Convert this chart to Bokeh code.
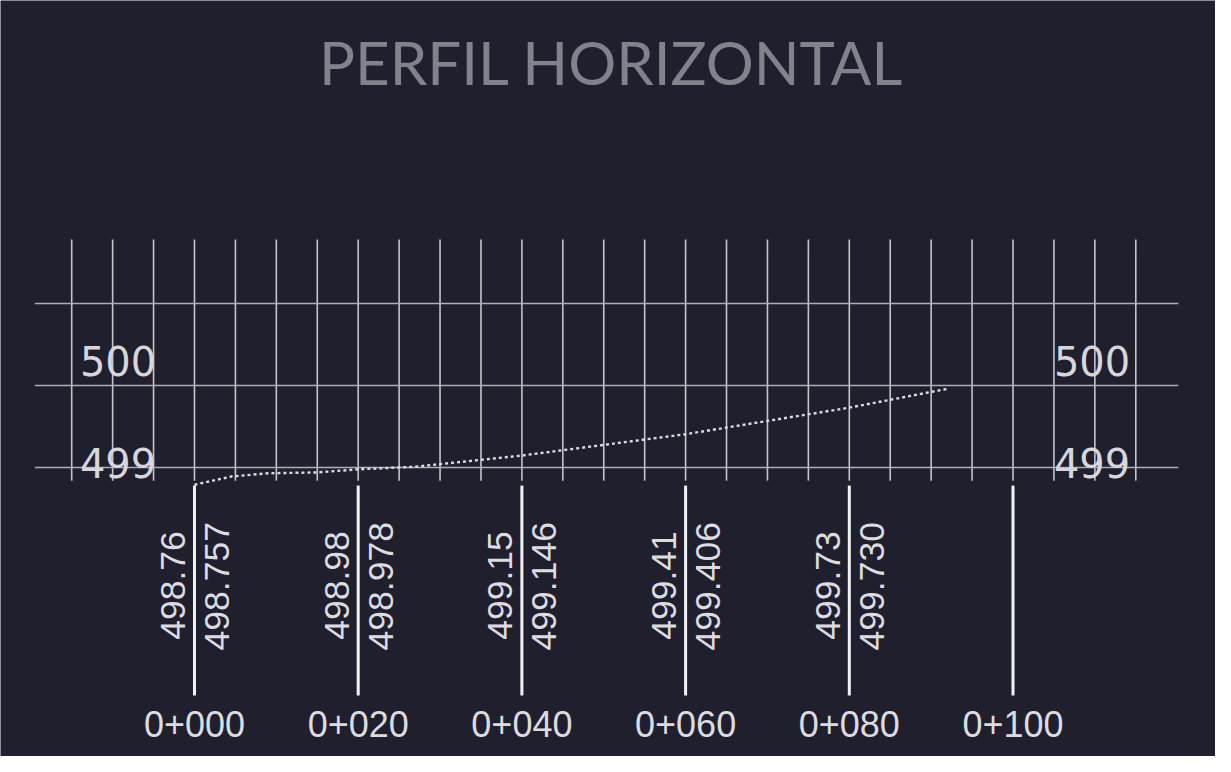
import numpy as np
from bokeh.plotting import figure
from bokeh.models import Range1d
from bokeh.core.properties import value
from bokeh.embed import file_html
from bokeh.resources import INLINE

# ---- data ----
title_text = "PERFIL HORIZONTAL"
station_m = [0, 20, 40, 60, 80, 100]
station_labels = ["0+000", "0+020", "0+040", "0+060", "0+080", "0+100"]
label_station_m = [0, 20, 40, 60, 80]
cota_terreno = ["498.76", "498.98", "499.15", "499.41", "499.73"]
cota_rasante = ["498.757", "498.978", "499.146", "499.406", "499.730"]
profile_m = [0, 4.5, 9, 15, 20, 27, 40, 60, 80, 92]
profile_elev = [498.79, 498.89, 498.93, 498.94, 498.978, 499.01, 499.146, 499.406, 499.730, 499.96]
elev_lines = [499, 500, 501]
elev_ticks = [499, 500]
grid_x = list(np.arange(-15, 116, 5))

BG = "#201f2d"
FONT = value("Liberation Sans")

p = figure(width=1215, height=756,
           x_range=Range1d(-23.70, 124.74), y_range=Range1d(495.476, 504.695),
           output_backend="svg", toolbar_location=None,
           x_axis_location=None, y_axis_location=None,
           min_border=0, min_border_left=0, min_border_right=0,
           min_border_top=0, min_border_bottom=0)
p.xgrid.visible = False
p.ygrid.visible = False
p.outline_line_color = None
p.background_fill_color = BG
p.border_fill_color = BG

# vertical grid
n = len(grid_x)
p.segment(x0=grid_x, y0=[501.78] * n, x1=grid_x, y1=[498.84] * n,
          line_color="#c4c4ca", line_width=1.6)
# horizontal grid
m = len(elev_lines)
p.segment(x0=[-19.5] * m, y0=elev_lines, x1=[120.2] * m, y1=elev_lines,
          line_color="#aeaeb6", line_width=1.6)

# elevation labels left and right (text middle placed on digit centre)
lab = [str(v) for v in elev_ticks]
ty = [v + (0.305 if v == 500 else 0.049) for v in elev_ticks]
for xl in (-14.0, 105.0):
    p.text(x=[xl] * len(lab), y=ty, text=lab, text_font=value("DejaVu Sans"),
           text_font_size="40px", text_color="#d6d6dc", text_align="left",
           text_baseline="middle")

# profile line
p.line(profile_m, profile_elev, line_color="#dcdce0", line_width=2.4, line_dash="3 3")

# station lines
k = len(station_m)
p.segment(x0=station_m, y0=[498.78] * k, x1=station_m, y1=[496.22] * k,
          line_color="#f2f2f2", line_width=3)

# rotated elevation labels
L = len(label_station_m)
p.text(x=[s - 2.63 for s in label_station_m], y=[496.90] * L, text=cota_terreno,
       angle=np.pi / 2, text_font=FONT, text_font_size="35.5px", text_color="#dcdce0",
       text_align="left", text_baseline="middle")
p.text(x=[s + 2.75 for s in label_station_m], y=[496.77] * L, text=cota_rasante,
       angle=np.pi / 2, text_font=FONT, text_font_size="35.5px", text_color="#dcdce0",
       text_align="left", text_baseline="middle")

# station labels
p.text(x=station_m, y=[495.872] * k, text=station_labels, text_font=FONT,
       text_font_size="36px", text_color="#dcdce0", text_align="center",
       text_baseline="middle")

# title
p.text(x=[50.95], y=[503.939], text=[title_text], text_font=value("Lato"),
       text_font_size="60px", text_color="#82828c", text_align="center",
       text_baseline="middle")

open("out.html", "w").write(file_html(p, INLINE))
